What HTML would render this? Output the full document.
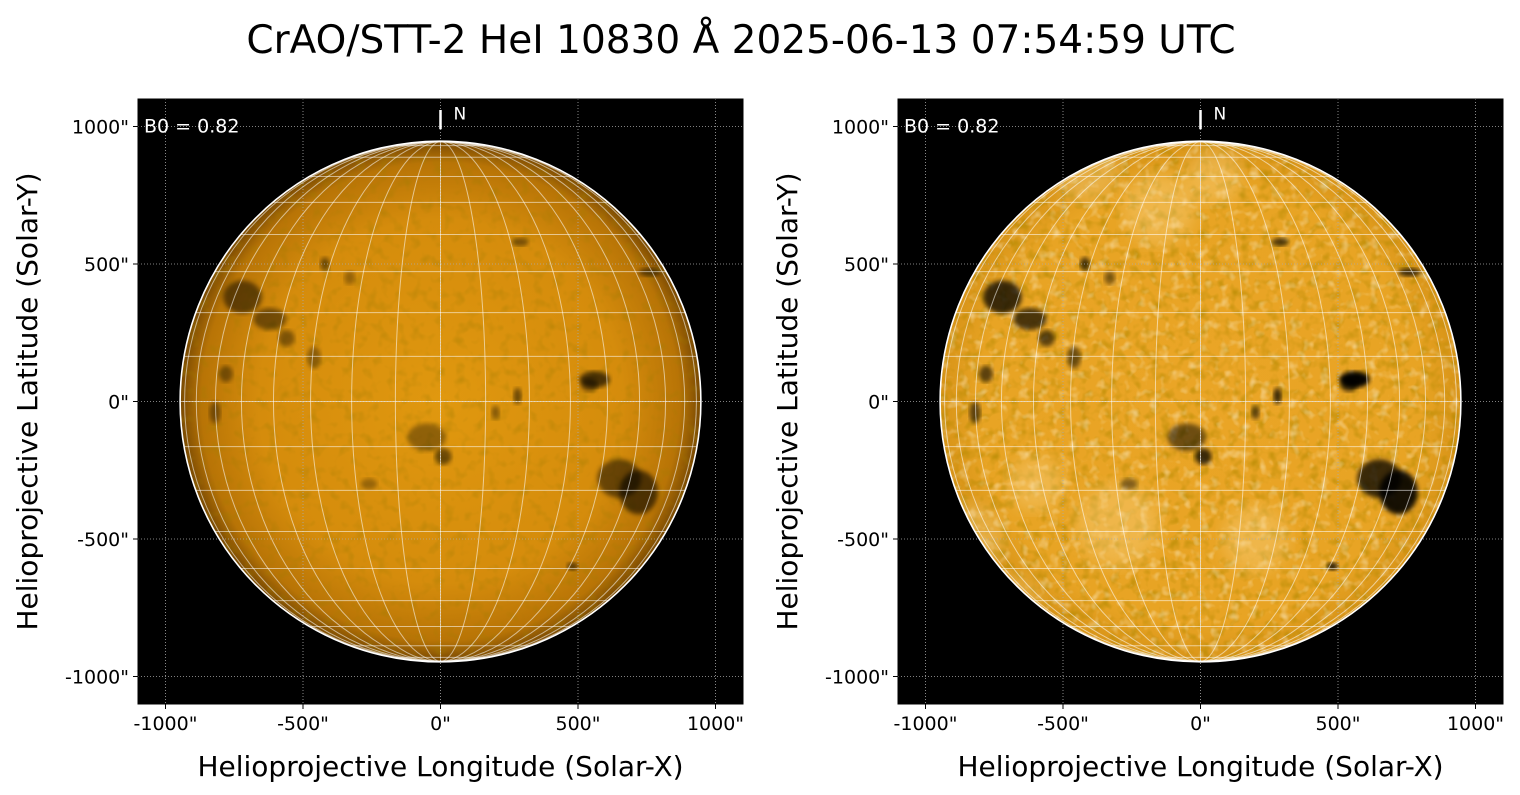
<!DOCTYPE html>
<html><head><meta charset="utf-8">
<style>
html,body{margin:0;padding:0;background:#fff;width:1520px;height:795px;overflow:hidden}
svg text{font-family:"DejaVu Sans","Liberation Sans",sans-serif}
</style></head>
<body>
<svg id="fig" width="1520" height="795" viewBox="0 0 1520 795" xmlns="http://www.w3.org/2000/svg">
<defs>
<radialGradient id="limbL" cx="0.5" cy="0.5" r="0.5">
<stop offset="0" stop-color="#e0980f"/><stop offset="0.7" stop-color="#d58c0c"/><stop offset="0.92" stop-color="#b87406"/><stop offset="1" stop-color="#7a4a02"/>
</radialGradient>
<radialGradient id="limbR" cx="0.5" cy="0.5" r="0.5">
<stop offset="0" stop-color="#eaa526"/><stop offset="0.85" stop-color="#e8a424"/><stop offset="1" stop-color="#d89418"/>
</radialGradient>
<filter id="mottleL" x="0" y="0" width="100%" height="100%">
<feTurbulence type="fractalNoise" baseFrequency="0.09" numOctaves="2" seed="3"/>
<feColorMatrix type="matrix" values="0 0 0 0 0.35  0 0 0 0 0.2  0 0 0 0 0  0 0 0 1.0 -0.5"/>
</filter>
<filter id="mottleR" x="0" y="0" width="100%" height="100%">
<feTurbulence type="fractalNoise" baseFrequency="0.1" numOctaves="2" seed="7"/>
<feColorMatrix type="matrix" values="0 0 0 0 0.45  0 0 0 0 0.25  0 0 0 0 0  0 0 0 1.6 -0.75"/>
</filter>
<filter id="mottleW" x="0" y="0" width="100%" height="100%">
<feTurbulence type="fractalNoise" baseFrequency="0.1" numOctaves="2" seed="11"/>
<feColorMatrix type="matrix" values="0 0 0 0 1  0 0 0 0 0.92  0 0 0 0 0.7  0 0 0 1.6 -0.85"/>
</filter>
<filter id="blur2"><feGaussianBlur stdDeviation="2.5"/></filter>
<filter id="blur4"><feGaussianBlur stdDeviation="8"/></filter>
</defs>
<text x="741" y="53" font-size="39" text-anchor="middle" fill="#000">CrAO/STT-2 HeI 10830 Å 2025-06-13 07:54:59 UTC</text>
</svg>
<script>
const tickVals=[-1000,-500,0,500,1000];
const tickLabels=['-1000"','-500"','0"','500"','1000"'];
const solarRadius=945;
const b0Label="B0 = 0.82";
const gridLon=[-80,-70,-60,-50,-40,-30,-20,-10,0,10,20,30,40,50,60,70,80];
const gridLat=[-80,-70,-60,-50,-40,-30,-20,-10,0,10,20,30,40,50,60,70,80];
// dark features: x", y", rx", ry", darkness
const featX=[-720,-620,-560,-780,-420,-330,-50,10,560,540,650,720,290,280,-460,-820,760,200,-260,480];
const featY=[380,300,230,100,500,450,-130,-200,80,60,-280,-330,580,20,160,-40,470,-40,-300,-600];
const featRx=[70,60,30,25,18,20,70,30,55,30,80,70,30,15,25,20,40,15,30,20];
const featRy=[60,40,30,30,25,25,50,30,30,25,70,80,15,30,40,40,15,25,20,15];
const featDark=[0.5,0.45,0.4,0.4,0.45,0.3,0.35,0.5,0.65,0.45,0.5,0.6,0.45,0.5,0.35,0.4,0.5,0.4,0.3,0.55];
// bright patches (right panel): x", y", r"
const brightX=[-420,-850,-700,-300,200,-150,-600,50];
const brightY=[850,-500,-750,-450,-500,700,-300,820];
const brightR=[120,130,120,150,120,130,100,100];

const NS="http://www.w3.org/2000/svg";
const fig=document.getElementById('fig');
function mk(tag,attrs,parent){const e=document.createElementNS(NS,tag);for(const k in attrs)e.setAttribute(k,attrs[k]);(parent||fig).appendChild(e);return e;}

function panel(x0,y0,w,h,right){
  const xmin=-1100,xmax=1100;
  const sx=v=>x0+ (v-xmin)/(xmax-xmin)*w;
  const sy=v=>y0+h-(v-xmin)/(xmax-xmin)*h;
  const sr=v=>v/(xmax-xmin)*w;
  const g=mk('g',{});
  
  
  const bg=mk('rect',{x:x0,y:y0,width:w,height:h,fill:'#000'},g);
  
  
  const cx=sx(0),cy=sy(0),R=sr(solarRadius);
  const cid='clip'+(right?'R':'L');
  const cp=mk('clipPath',{id:cid},g);mk('circle',{cx:cx,cy:cy,r:R},cp);
  const disk=mk('g',{'clip-path':`url(#${cid})`},g);
  
  
  mk('circle',{cx:cx,cy:cy,r:R,fill:right?'url(#limbR)':'url(#limbL)'},disk);
  mk('rect',{x:cx-R,y:cy-R,width:2*R,height:2*R,filter:right?'url(#mottleR)':'url(#mottleL)'},disk);
  if(right){
    mk('rect',{x:cx-R,y:cy-R,width:2*R,height:2*R,filter:'url(#mottleW)',opacity:0.8},disk);
    for(let i=0;i<brightX.length;i++){
      const b=mk('circle',{cx:sx(brightX[i]),cy:sy(brightY[i]),r:sr(brightR[i]),fill:'#ffe0a0',opacity:0.3,filter:'url(#blur4)'},disk);
      
      
    }
  }
  for(let i=0;i<featX.length;i++){
    const f=mk('ellipse',{cx:sx(featX[i]),cy:sy(featY[i]),rx:sr(featRx[i]),ry:sr(featRy[i]),fill:'#000',opacity:Math.min(1,featDark[i]*(right?1.5:1)),filter:'url(#blur2)'},disk);
    
    
  }
  tickVals.forEach(v=>{
    const a=mk('line',{x1:sx(v),x2:sx(v),y1:y0,y2:y0+h,stroke:'#aaa','stroke-width':0.8,'stroke-dasharray':'1,2'},g);
    
    
    const b=mk('line',{x1:x0,x2:x0+w,y1:sy(v),y2:sy(v),stroke:'#aaa','stroke-width':0.8,'stroke-dasharray':'1,2'},g);
    
    
  });
  const hg=mk('g',{stroke:'#fff','stroke-opacity':0.55,'stroke-width':1,fill:'none'},g);
  
  
  gridLon.forEach(lon=>{
    let d='';
    for(let la=-90;la<=90;la+=3){
      const r=Math.PI/180;
      const px=cx+R*Math.cos(la*r)*Math.sin(lon*r), py=cy-R*Math.sin(la*r);
      d+=(la===-90?'M':'L')+px.toFixed(2)+' '+py.toFixed(2);
    }
    const p=mk('path',{d:d},hg);
    
    
  });
  gridLat.forEach(lat=>{
    const r=Math.PI/180;
    const hw=R*Math.cos(lat*r), py=cy-R*Math.sin(lat*r);
    const l=mk('line',{x1:cx-hw,x2:cx+hw,y1:py,y2:py},hg);
    
    
  });
  const limb=mk('circle',{cx:cx,cy:cy,r:R+0.5,fill:'none',stroke:'#fff','stroke-width':1.6},g);
  
  
  const nl=mk('line',{x1:cx,x2:cx,y1:sy(1060),y2:sy(990),stroke:'#fff','stroke-width':2.5},g);
  
  
  const nt=mk('text',{x:cx+13,y:sy(1030)+1,'font-size':17,fill:'#fff'},g);nt.textContent='N';
  
  
  const bt=mk('text',{x:x0+6,y:sy(1000)+6,'font-size':19,fill:'#fff'},g);bt.textContent=b0Label;
  
  
  const fr=mk('rect',{x:x0,y:y0,width:w,height:h,fill:'none',stroke:'#000','stroke-width':1},g);
  
  
  tickVals.forEach((v,i)=>{
    mk('line',{x1:sx(v),x2:sx(v),y1:y0+h,y2:y0+h+5,stroke:'#000'},g);
    const tx=mk('text',{x:sx(v),y:y0+h+26,'font-size':19,'text-anchor':'middle'},g);tx.textContent=tickLabels[i];
    
    
    mk('line',{x1:x0-5,x2:x0,y1:sy(v),y2:sy(v),stroke:'#000'},g);
    const ty=mk('text',{x:x0-9,y:sy(v)+7,'font-size':19,'text-anchor':'end'},g);ty.textContent=tickLabels[i];
    
    
  });
  const xl=mk('text',{x:x0+w/2,y:776,'font-size':28,'text-anchor':'middle'},g);xl.textContent='Helioprojective Longitude (Solar-X)';
  
  
  const yl=mk('text',{x:0,y:0,'font-size':28,'text-anchor':'middle',transform:`translate(${x0-101},${y0+h/2}) rotate(-90)`},g);yl.textContent='Helioprojective Latitude (Solar-Y)';
  
  
}
panel(138,99,605,605,false);
panel(898,99,605,605,true);
</script>
</body></html>
